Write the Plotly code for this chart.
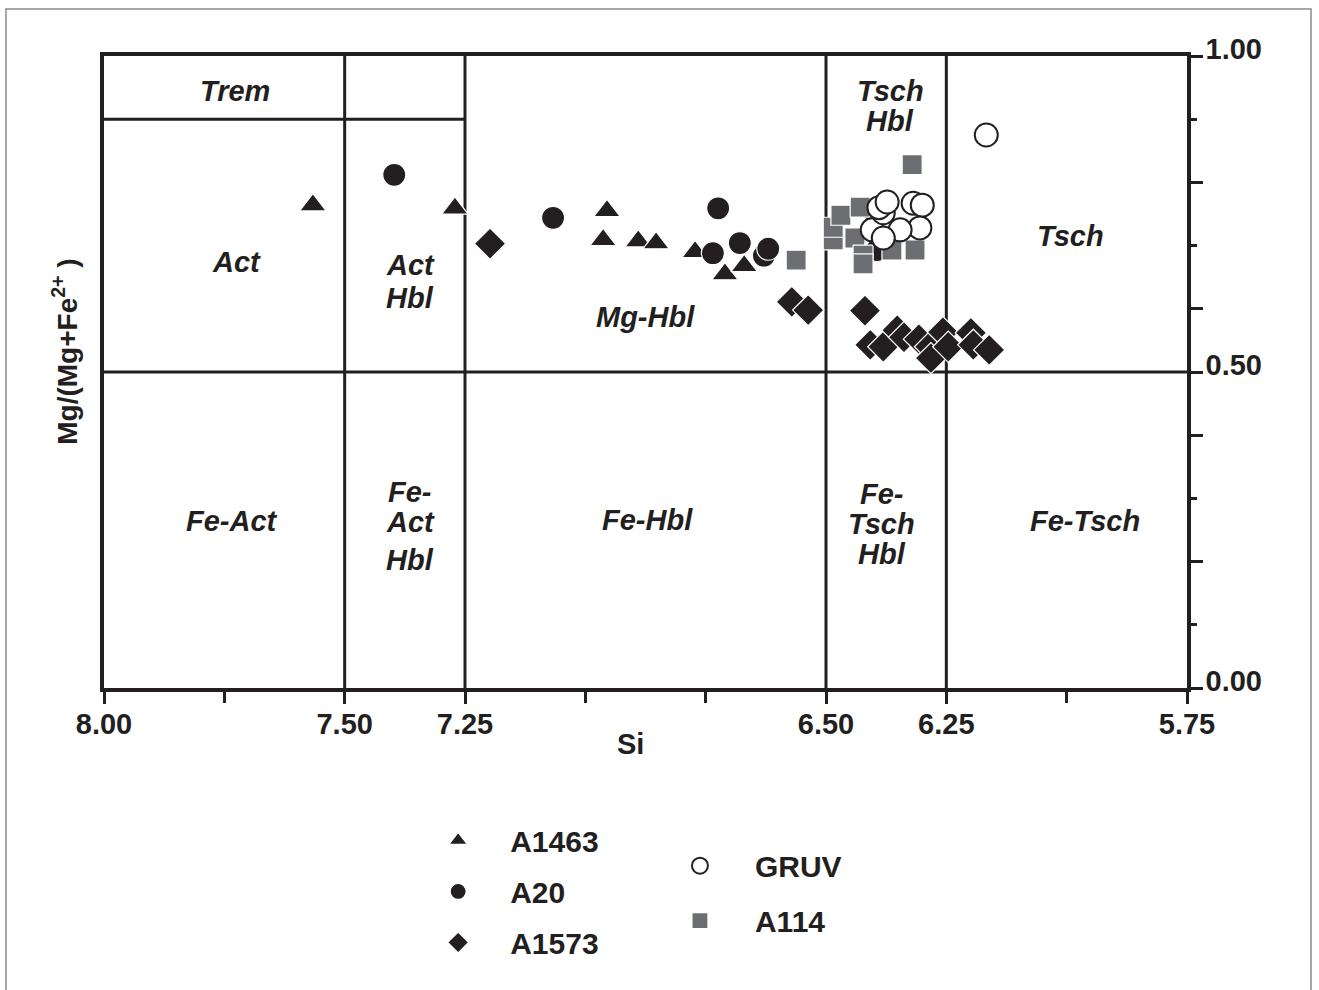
import plotly.graph_objects as go

# --- Amphibole analyses: Si (apfu) vs Mg/(Mg+Fe2+) ---
a1463_si = [7.566, 7.271, 6.955, 6.963, 6.890, 6.853, 6.772, 6.710, 6.670]
a1463_mg = [0.764, 0.759, 0.755, 0.709, 0.707, 0.704, 0.690, 0.655, 0.668]

a20_si = [6.402, 6.394, 7.397, 7.067, 6.724, 6.735, 6.679, 6.629, 6.620]
a20_mg = [0.756, 0.693, 0.812, 0.744, 0.759, 0.688, 0.704, 0.684, 0.695]

a1573_si = [7.198, 6.571, 6.537, 6.419, 6.408, 6.381, 6.352, 6.338, 6.307,
            6.284, 6.282, 6.257, 6.246, 6.199, 6.194, 6.161]
a1573_mg = [0.703, 0.611, 0.598, 0.597, 0.543, 0.540, 0.566, 0.555, 0.552,
            0.540, 0.522, 0.563, 0.540, 0.562, 0.543, 0.535]

a114_si = [6.321, 6.485, 6.485, 6.469, 6.429, 6.440, 6.423, 6.423, 6.363, 6.315, 6.562]
a114_mg = [0.828, 0.709, 0.729, 0.748, 0.761, 0.712, 0.685, 0.671, 0.693, 0.693, 0.677]

gruv_si = [6.167, 6.404, 6.381, 6.390, 6.373, 6.319, 6.300, 6.305, 6.346, 6.381]
gruv_mg = [0.875, 0.725, 0.752, 0.760, 0.769, 0.767, 0.764, 0.728, 0.725, 0.712]

# --- Classification field boundaries ---
si_boundaries = [7.50, 7.25, 6.50, 6.25]
mg_boundary = 0.50
trem_boundary = 0.90
trem_si_limit = 7.25

x_major = [8.00, 7.50, 7.25, 6.50, 6.25, 5.75]
x_minor = [7.75, 7.00, 6.75, 6.00]
y_long = [0.0, 0.2, 0.4, 0.5, 0.6, 0.8, 1.0]
y_labels = ["0.00", "", "", "0.50", "", "", "1.00"]
y_short = [0.1, 0.3, 0.7, 0.9]

# field names: (lines, si, list of mg positions per line)
field_labels = [
    (["Trem"], 7.728, [0.945]),
    (["Act"], 7.724, [0.674]),
    (["Act", "Hbl"], 7.364, [0.669, 0.617]),
    (["Mg-Hbl"], 6.876, [0.587]),
    (["Tsch", "Hbl"], 6.367, [0.945, 0.897]),
    (["Tsch"], 5.993, [0.715]),
    (["Fe-Act"], 7.734, [0.264]),
    (["Fe-", "Act", "Hbl"], 7.364, [0.310, 0.263, 0.203]),
    (["Fe-Hbl"], 6.870, [0.266]),
    (["Fe-", "Tsch", "Hbl"], 6.384, [0.307, 0.259, 0.212]),
    (["Fe-Tsch"], 5.962, [0.264]),
]

INK = "#231f20"
GREY = "#6d6e71"
FONT = "Liberation Sans, Arial, sans-serif"

fig = go.Figure()

fig.add_trace(go.Scatter(
    x=a1463_si, y=a1463_mg, mode="markers", name="A1463",
    legend="legend", legendgroup="a1463", legendrank=1,
    marker=dict(symbol="triangle-up", size=23, color=INK,
                line=dict(color="white", width=1.2))))
fig.add_trace(go.Scatter(
    x=a20_si, y=a20_mg, mode="markers", name="A20",
    legend="legend", legendgroup="a20", legendrank=2,
    marker=dict(symbol="circle", size=23, color=INK,
                line=dict(color="white", width=1.2))))
fig.add_trace(go.Scatter(
    x=a1573_si, y=a1573_mg, mode="markers", name="A1573",
    legend="legend", legendgroup="a1573", legendrank=3,
    marker=dict(symbol="diamond", size=24, color=INK,
                line=dict(color="white", width=1.2))))
fig.add_trace(go.Scatter(
    x=a114_si, y=a114_mg, mode="markers", name="A114",
    legend="legend2", legendgroup="a114", legendrank=2,
    marker=dict(symbol="square", size=20, color=GREY,
                line=dict(color="white", width=1.2))))
fig.add_trace(go.Scatter(
    x=gruv_si, y=gruv_mg, mode="markers", name="GRUV",
    legend="legend2", legendgroup="gruv", legendrank=1,
    marker=dict(symbol="circle", size=23, color="white",
                line=dict(color=INK, width=2))))

# field boundaries
shapes = []
for s in si_boundaries:
    shapes.append(dict(type="line", xref="x", yref="y", x0=s, x1=s, y0=0, y1=1,
                       line=dict(color=INK, width=3), layer="below"))
shapes.append(dict(type="line", xref="x", yref="y", x0=8.0, x1=5.75,
                   y0=mg_boundary, y1=mg_boundary,
                   line=dict(color=INK, width=3), layer="below"))
shapes.append(dict(type="line", xref="x", yref="y", x0=8.0, x1=trem_si_limit,
                   y0=trem_boundary, y1=trem_boundary,
                   line=dict(color=INK, width=3), layer="below"))
# outer frame of the figure
shapes.append(dict(type="rect", xref="paper", yref="paper",
                   x0=-0.0905, x1=1.1145, y0=-0.49, y1=1.0745,
                   line=dict(color="#8a8a8a", width=1.5), layer="below"))

annotations = []
for lines, sx, ys in field_labels:
    for txt, yy in zip(lines, ys):
        annotations.append(dict(
            x=sx, y=yy, xref="x", yref="y", text=txt, showarrow=False,
            font=dict(family=FONT, size=29, color=INK, weight="bold", style="italic"),
            xanchor="center", yanchor="middle"))

annotations.append(dict(
    x=0.486, y=-0.088, xref="paper", yref="paper", text="Si", showarrow=False,
    font=dict(family=FONT, size=29, color=INK, weight="bold"),
    xanchor="center", yanchor="middle"))
annotations.append(dict(
    x=-0.036, y=0.532, xref="paper", yref="paper",
    text="Mg/(Mg+Fe<sup>2+</sup> )", showarrow=False, textangle=-90,
    font=dict(family=FONT, size=28, color=INK, weight="bold"),
    xanchor="center", yanchor="middle"))

tick_font = dict(family=FONT, size=29, color=INK, weight="bold")
legend_font = dict(family=FONT, size=30, color=INK, weight="bold")

fig.update_layout(
    width=1319, height=990,
    margin=dict(l=104, r=132, t=56, b=302),
    paper_bgcolor="white", plot_bgcolor="white",
    showlegend=True,
    xaxis=dict(
        range=[8.0, 5.75], showgrid=False, zeroline=False,
        showline=True, linewidth=3.5, linecolor=INK, mirror=True,
        ticks="outside", ticklen=12, tickwidth=3, tickcolor=INK,
        tickvals=x_major, ticktext=[f"{v:.2f}" for v in x_major],
        tickfont=tick_font, ticklabelstandoff=-5,
        minor=dict(tickvals=x_minor, ticks="outside", ticklen=11,
                   tickwidth=3, tickcolor=INK, showgrid=False),
    ),
    yaxis=dict(
        range=[0, 1], side="right", showgrid=False, zeroline=False,
        showline=True, linewidth=3.5, linecolor=INK, mirror=True,
        ticks="outside", ticklen=12, tickwidth=3, tickcolor=INK,
        tickvals=y_long, ticktext=y_labels, tickfont=tick_font,
        ticklabelshift=-7, ticklabelstandoff=-3,
        minor=dict(tickvals=y_short, ticks="outside", ticklen=6,
                   tickwidth=3, tickcolor=INK, showgrid=False),
    ),
    legend=dict(
        x=0.279, y=-0.20, xanchor="left", yanchor="top",
        font=legend_font, itemwidth=94, tracegroupgap=9,
        bgcolor="rgba(0,0,0,0)", traceorder="grouped",
    ),
    legend2=dict(
        x=0.4995, y=-0.24, xanchor="left", yanchor="top",
        font=legend_font, itemwidth=100, tracegroupgap=13,
        bgcolor="rgba(0,0,0,0)", traceorder="grouped",
    ),
    shapes=shapes,
    annotations=annotations,
)

fig.write_html("out.html")
